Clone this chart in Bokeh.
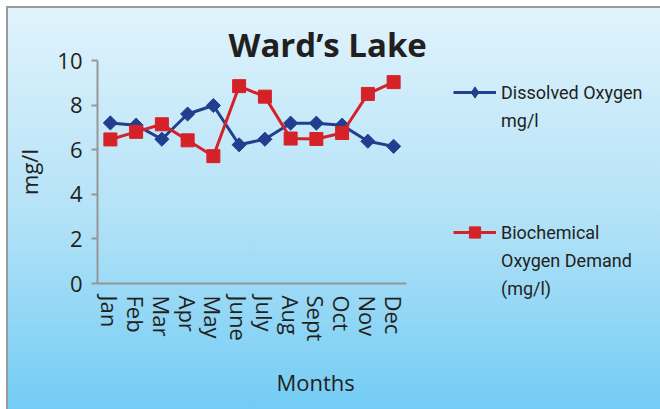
import math
from bokeh.plotting import figure
from bokeh.models import FactorRange, Range1d, FixedTicker, Legend, LegendItem, Title
from bokeh.embed import file_html
from bokeh.resources import INLINE

# ---- data ----
months = ["Jan", "Feb", "Mar", "Apr", "May", "June", "July", "Aug", "Sept", "Oct", "Nov", "Dec"]
dissolved_oxygen = [7.2, 7.1, 6.47, 7.6, 7.98, 6.22, 6.47, 7.19, 7.19, 7.1, 6.38, 6.15]
biochemical_oxygen_demand = [6.46, 6.8, 7.14, 6.42, 5.71, 8.85, 8.38, 6.5, 6.48, 6.75, 8.5, 9.03]
y_ticks = [0, 2, 4, 6, 8, 10]
title_text = "Ward\u2019s Lake"
x_title = "Months"
y_title = "mg/l"
do_label = ["Dissolved Oxygen", "mg/l"]
bod_label = ["Biochemical", "Oxygen Demand", "(mg/l)"]

BLUE = "#223f8f"
RED = "#d52229"
AXIS = "#969696"
TEXT = "#231f20"
FONT = "Open Sans"

p = figure(x_range=FactorRange(factors=months, range_padding=0),
           y_range=Range1d(0, 10),
           frame_width=309, frame_height=223,
           min_border_left=97, min_border_right=254,
           min_border_top=60, min_border_bottom=126,
           output_backend="svg", toolbar_location=None)

p.styles = {"background": ("linear-gradient(#9a9a9a,#9a9a9a) 6px 6px / 2px 100% no-repeat, "
                           "linear-gradient(#9a9a9a,#9a9a9a) 6px 6px / 100% 2px no-repeat, "
                           "linear-gradient(to bottom, #e0f3fc 0%, #b3e2f7 50%, #6ecaf4 100%) "
                           "8px 8px / 100% 100% no-repeat, #ffffff")}
p.background_fill_alpha = 0
p.border_fill_alpha = 0
p.outline_line_color = None
p.xgrid.visible = False
p.ygrid.visible = False

p.title.text = title_text
p.title.align = "left"
p.title.offset = 131
p.title.standoff = -13
p.title.text_font = FONT
p.title.text_font_style = "bold"
p.title.text_font_size = "33px"
p.title.text_color = TEXT

yax = p.yaxis[0]
yax.ticker = FixedTicker(ticks=y_ticks)
yax.minor_tick_line_color = None
yax.major_tick_out = 6
yax.major_tick_in = 0
yax.axis_line_color = AXIS
yax.axis_line_width = 2
yax.major_tick_line_color = AXIS
yax.major_tick_line_width = 2
yax.major_label_text_font = FONT
yax.major_label_text_font_size = "22px"
yax.major_label_text_color = TEXT
yax.major_label_standoff = 9
yax.axis_label = y_title
yax.axis_label_text_font = FONT
yax.axis_label_text_font_style = "normal"
yax.axis_label_text_font_size = "22px"
yax.axis_label_text_color = TEXT
yax.axis_label_standoff = 10

xax = p.xaxis[0]
xax.major_label_orientation = "vertical"
xax.major_tick_line_color = None
xax.minor_tick_line_color = None
xax.axis_line_color = AXIS
xax.axis_line_width = 2
xax.major_label_text_font = FONT
xax.major_label_text_font_size = "22px"
xax.major_label_text_color = TEXT
xax.major_label_standoff = 6

p.add_layout(Title(text=x_title, align="left", offset=179, standoff=41,
                   text_font=FONT, text_font_style="normal", text_font_size="22px",
                   text_color=TEXT), "below")

do_line = p.line(months, dissolved_oxygen, line_color=BLUE, line_width=3)
# small diamond hidden under the rotated squares; only its legend glyph is seen
do_key = p.scatter(months, dissolved_oxygen, marker="diamond", size=8,
                   fill_color=BLUE, line_color=BLUE)
do_pts = p.scatter(months, dissolved_oxygen, marker="square", angle=math.pi / 4, size=10,
                   fill_color=BLUE, line_color=BLUE)
bod_line = p.line(months, biochemical_oxygen_demand, line_color=RED, line_width=3)
bod_pts = p.scatter(months, biochemical_oxygen_demand, marker="square", size=13,
                    fill_color=RED, line_color=RED)

# one legend row per text line; blank rows separate the two entries
items = [LegendItem(label=do_label[0], renderers=[do_line, do_key])]
items += [LegendItem(label=t) for t in do_label[1:]]
items += [LegendItem(label=" ") for _ in range(3)]
items += [LegendItem(label=bod_label[0], renderers=[bod_line, bod_pts])]
items += [LegendItem(label=t) for t in bod_label[1:]]

legend = Legend(items=items, location=(47, -19), padding=0, margin=0, spacing=0,
                label_standoff=5, glyph_width=43, glyph_height=28, label_height=20,
                label_text_font="Roboto", label_text_font_size="18px",
                label_text_color=TEXT,
                background_fill_alpha=0, border_line_alpha=0)
p.add_layout(legend, "right")

open("out.html", "w").write(file_html(p, INLINE))
